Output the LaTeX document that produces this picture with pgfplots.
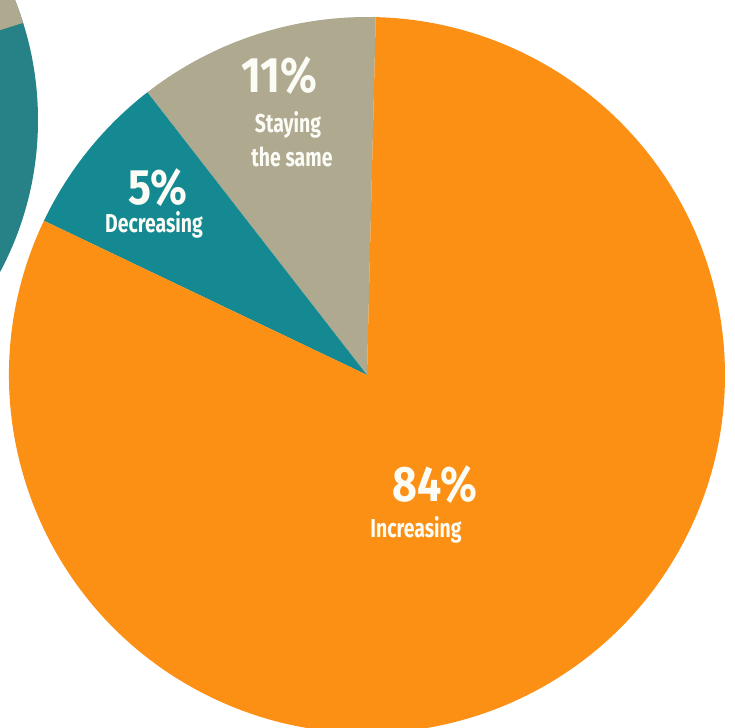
\documentclass[border=0pt]{standalone}
\usepackage{pgfplots}
\usepackage{pgfplotstable}
\pgfplotsset{compat=1.18}
\usepackage{fontspec}
\setmainfont{Fira Sans}
\newfontfamily\condbig[FakeStretch=0.86]{Fira Sans}
\newfontfamily\condsmall[FakeStretch=0.75]{Fira Sans}
\definecolor{pieorange}{RGB}{251,144,20}
\definecolor{pietan}{RGB}{174,169,143}
\definecolor{pieteal}{RGB}{20,137,145}
\definecolor{leftteal}{RGB}{38,130,134}
\definecolor{txt}{RGB}{252,252,246}

% slices counter-clockwise from the start angle; share = part of the circle drawn (percent)
\pgfplotstableread{
slice  share  value
same   10.9   11
decr   7.4    5
incr   81.7   84
}\piedata

\begin{document}
\begin{tikzpicture}
\pgfplotstablegetelem{0}{share}\of\piedata \let\sA\pgfplotsretval
\pgfplotstablegetelem{1}{share}\of\piedata \let\sB\pgfplotsretval
\pgfplotstablegetelem{2}{share}\of\piedata \let\sC\pgfplotsretval
\pgfmathsetmacro\aA{88.6}
\pgfmathsetmacro\aB{\aA+3.6*\sA}
\pgfmathsetmacro\aC{\aB+3.6*\sB}
\pgfmathsetmacro\aD{\aC+3.6*\sC}
\begin{axis}[
  hide axis,
  x=1bp, y=1bp,
  xmin=0, xmax=735, ymin=0, ymax=728,
  enlargelimits=false,
  clip=true,
]
% fragment of a neighbouring chart (top left)
\fill[leftteal] (axis cs:-285,608) circle[radius=323bp];
\fill[pietan] (axis cs:-285,608) -- ++(17.5:323bp) arc[start angle=17.5, end angle=90, radius=323bp] -- cycle;

% main pie
\fill[pietan]    (axis cs:367,353) -- ++(\aA:358bp) arc[start angle=\aA, end angle=\aB, radius=358bp] -- cycle;
\fill[pieteal]   (axis cs:367,353) -- ++(\aB:358bp) arc[start angle=\aB, end angle=\aC, radius=358bp] -- cycle;
\fill[pieorange] (axis cs:367,353) -- ++(\aC:358bp) arc[start angle=\aC, end angle=\aD, radius=358bp] -- cycle;

\tikzset{big/.style={anchor=base, text=txt, font=\condbig\bfseries\fontsize{50}{50}\selectfont, inner sep=0pt},
         small/.style={anchor=base, text=txt, font=\condsmall\bfseries\fontsize{26}{26}\selectfont, inner sep=0pt}}
\node[big]   at (axis cs:279,635) {11\%};
\node[small] at (axis cs:288,595) {Staying};
\node[small] at (axis cs:292,561) {the same};
\node[big]   at (axis cs:158,523) {5\%};
\node[small] at (axis cs:154,495) {Decreasing};
\node[big]   at (axis cs:435,226) {84\%};
\node[small] at (axis cs:416,190) {Increasing};
\end{axis}
\end{tikzpicture}
\end{document}
